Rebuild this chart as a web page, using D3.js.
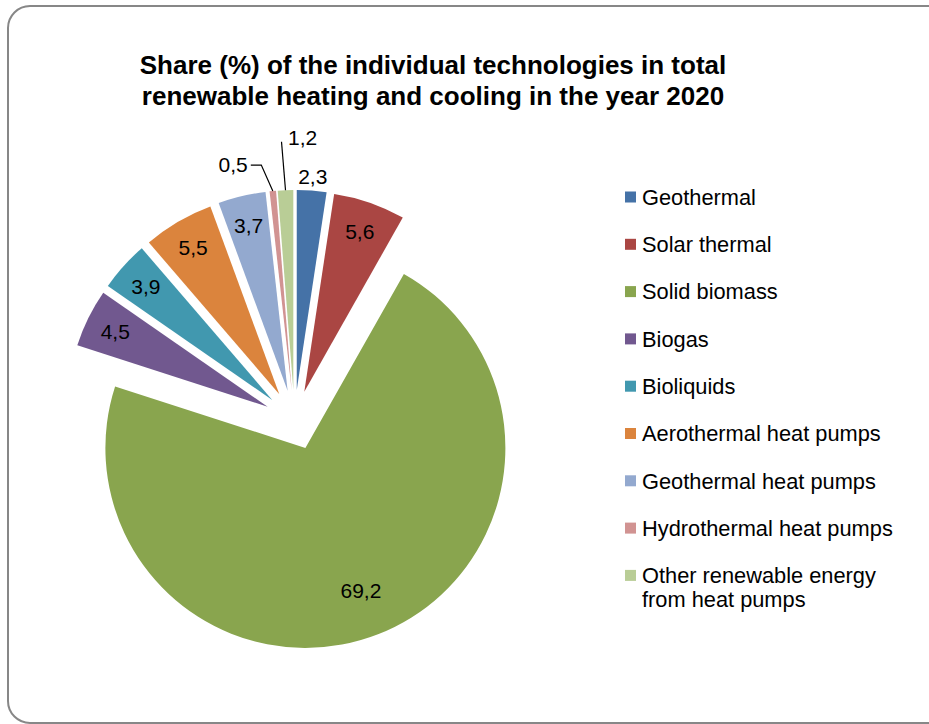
<!DOCTYPE html>
<html>
<head>
<meta charset="utf-8">
<script src="https://cdn.jsdelivr.net/npm/d3@7"></script>
<style>
  html, body { margin: 0; padding: 0; background: #ffffff; }
  svg { display: block; }
  text { font-family: "Liberation Sans", Arial, sans-serif; fill: #000; }
</style>
</head>
<body>
<svg id="chart" width="929" height="724"></svg>
<script>
const titleLines = [
  "Share (%) of the individual technologies in total",
  "renewable heating and cooling in the year 2020"
];
const categories = [
  "Geothermal",
  "Solar thermal",
  "Solid biomass",
  "Biogas",
  "Bioliquids",
  "Aerothermal heat pumps",
  "Geothermal heat pumps",
  "Hydrothermal heat pumps",
  "Other renewable energy from heat pumps"
];
const values = [2.3, 5.6, 69.2, 4.5, 3.9, 5.5, 3.7, 0.5, 1.2];
const colors = ["#4572A7", "#AA4643", "#89A54E", "#71588F", "#4198AF",
                "#DB843D", "#93A9CF", "#D19392", "#B9CD96"];
const legendLines = [
  ["Geothermal"], ["Solar thermal"], ["Solid biomass"], ["Biogas"], ["Bioliquids"],
  ["Aerothermal heat pumps"], ["Geothermal heat pumps"], ["Hydrothermal heat pumps"],
  ["Other renewable energy", "from heat pumps"]
];

const svg = d3.select("#chart");
const fmt = v => d3.format(".1f")(v).replace(".", ",");

// frame
svg.append("rect")
  .attr("x", 8).attr("y", 6).attr("width", 945).attr("height", 717)
  .attr("rx", 22).attr("ry", 22)
  .attr("fill", "#fff").attr("stroke", "#878787").attr("stroke-width", 2);

// title
titleLines.forEach((t, i) => {
  svg.append("text")
    .attr("x", 433).attr("y", 74 + i * 31)
    .attr("text-anchor", "middle")
    .style("font-weight", "bold").style("font-size", "26px")
    .text(t);
});

// pie
const cx = 294.5, cy = 420, R = 200, explode = 30;
const pie = d3.pie().sort(null).value(d => d)(values);
const arc = d3.arc().innerRadius(0).outerRadius(R);
const dir = a => [Math.sin(a), -Math.cos(a)];

const g = svg.append("g").attr("transform", `translate(${cx},${cy})`);
pie.forEach((p, i) => {
  const mid = (p.startAngle + p.endAngle) / 2;
  const [dx, dy] = dir(mid);
  g.append("path")
    .attr("d", arc(p))
    .attr("transform", `translate(${dx * explode},${dy * explode})`)
    .attr("fill", colors[i]);
});

// data labels
const labelFont = "21px";
pie.forEach((p, i) => {
  const mid = (p.startAngle + p.endAngle) / 2;
  const [dx, dy] = dir(mid);
  const ax = dx * explode, ay = dy * explode; // apex of exploded slice
  const txt = fmt(values[i]);
  if (i === 7 || i === 8) {
    const sx = ax + dx * R, sy = ay + dy * R;
    let pts, tx, ty, anchor;
    if (i === 7) {
      pts = [[sx, sy], [sx - 11.5, sy - 26], [sx - 22, sy - 26]];
      tx = sx - 25; ty = sy - 27; anchor = "end";
    } else {
      pts = [[sx, sy], [sx - 4, sy - 48.5]];
      tx = sx + 2.5; ty = sy - 52.5; anchor = "start";
    }
    g.append("path")
      .attr("d", d3.line()(pts))
      .attr("fill", "none").attr("stroke", "#000").attr("stroke-width", 1.2);
    g.append("text")
      .attr("x", tx).attr("y", ty).attr("dy", "0.36em")
      .attr("text-anchor", anchor).style("font-size", labelFont)
      .text(txt);
  } else {
    let r;
    if (i === 0) r = R + 14;
    else if (i === 2) r = R * 0.765;
    else r = R * 0.85;
    g.append("text")
      .attr("x", ax + dx * r).attr("y", ay + dy * r).attr("dy", "0.36em")
      .attr("text-anchor", "middle").style("font-size", labelFont)
      .text(txt);
  }
});

// legend
const leg = svg.append("g").attr("transform", "translate(625,197)");
legendLines.forEach((lines, i) => {
  const row = leg.append("g").attr("transform", `translate(0,${i * 47.3})`);
  row.append("rect").attr("x", 0).attr("y", -5.5).attr("width", 11).attr("height", 11)
    .attr("fill", colors[i]);
  lines.forEach((l, j) => {
    row.append("text").attr("x", 17).attr("y", j * 23.5).attr("dy", "0.36em")
      .style("font-size", "21.8px").text(l);
  });
});
</script>
</body>
</html>
